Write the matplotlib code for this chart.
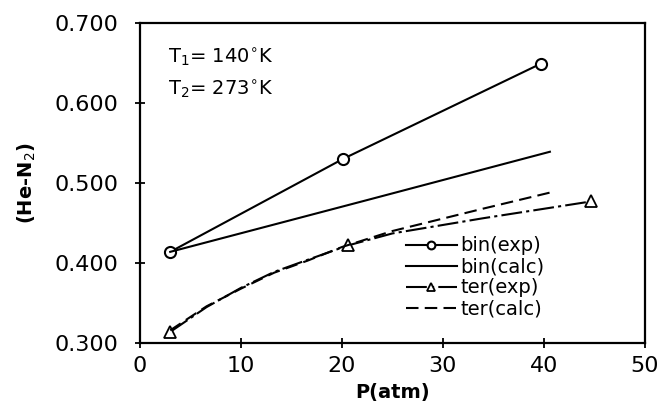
import matplotlib
matplotlib.use("Agg")
import matplotlib.pyplot as plt

bin_exp_p = [3.0, 20.1, 39.7]
bin_exp_v = [0.414, 0.530, 0.649]

bin_calc_p = [3.0, 22.6, 40.6]
bin_calc_v = [0.414, 0.479, 0.539]

ter_exp_p = [3.0, 6.6, 10.0, 13.3, 16.6, 20.6, 25.0, 34.0, 44.7]
ter_exp_v = [0.314, 0.345, 0.369, 0.389, 0.404, 0.422, 0.437, 0.456, 0.477]
ter_exp_mark = [0, 5, 8]

ter_calc_p = [3.0, 6.6, 10.0, 13.3, 16.6, 20.0, 25.0, 34.0, 40.6]
ter_calc_v = [0.316, 0.346, 0.368, 0.388, 0.403, 0.420, 0.440, 0.468, 0.488]

xticks = [0, 10, 20, 30, 40, 50]
yticks = [0.3, 0.4, 0.5, 0.6, 0.7]
ylabels = ["0.300", "0.400", "0.500", "0.600", "0.700"]

plt.rcParams['font.family'] = ['DejaVu Sans']

fig = plt.figure(figsize=(6.6, 4.08), dpi=100)
ax = fig.add_axes([0.212, 0.159, 0.765, 0.785])

ax.plot(bin_exp_p, bin_exp_v, color='k', lw=1.5, marker='o', ms=8,
        mfc='white', mew=1.5, label='bin(exp)')
ax.plot(bin_calc_p, bin_calc_v, color='k', lw=1.5, label='bin(calc)')
ax.plot(ter_exp_p, ter_exp_v, color='k', lw=1.5, ls=(0, (10, 2, 1.5, 2)),
        marker='^', ms=8, mfc='white', mew=1.3, markevery=ter_exp_mark,
        label='ter(exp)')
ax.plot(ter_calc_p, ter_calc_v, color='k', lw=1.5, ls=(0, (6, 3)),
        label='ter(calc)')

ax.set_xlim(0, 50)
ax.set_ylim(0.3, 0.7)
ax.set_xticks(xticks)
ax.set_yticks(yticks)
ax.set_yticklabels(ylabels)
ax.tick_params(direction='inout', length=7, width=1.3, labelsize=16)
ax.tick_params(axis='y', pad=12)
ax.tick_params(axis='x', pad=6)
for s in ax.spines.values():
    s.set_linewidth(1.6)

ax.set_xlabel('P(atm)', fontsize=14, fontweight='bold', labelpad=5)
ax.set_ylabel('(He-N$_2$)', fontsize=14, fontweight='bold', labelpad=12)

ax.text(0.055, 0.89, 'T$_1$= 140$^{\\circ}$K', transform=ax.transAxes,
        fontsize=14, va='center')
ax.text(0.055, 0.79, 'T$_2$= 273$^{\\circ}$K', transform=ax.transAxes,
        fontsize=14, va='center')

leg = ax.legend(loc='lower left', bbox_to_anchor=(0.5, 0.035), frameon=False,
                fontsize=14, handlelength=2.6, handletextpad=0.2,
                labelspacing=0.1, borderpad=0.2, markerscale=0.7)

fig.savefig('out.png', dpi=100)
